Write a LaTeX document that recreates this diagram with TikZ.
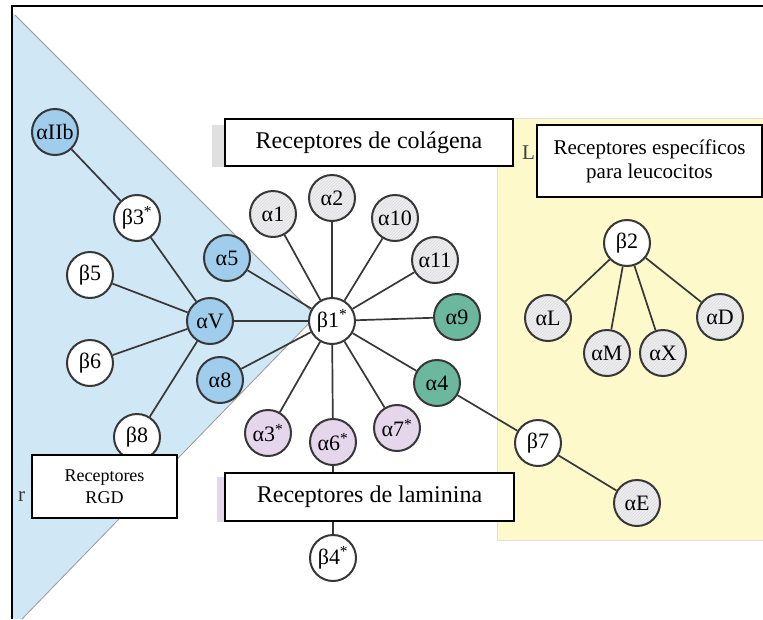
\documentclass[tikz,border=0pt]{standalone}
\usepackage{fontspec}
\setmainfont{Liberation Serif}
\usetikzlibrary{patterns}

\definecolor{zonaazul}{RGB}{208,231,246}
\definecolor{zonaamarilla}{RGB}{253,249,202}
\definecolor{azul}{RGB}{160,205,236}
\definecolor{verde}{RGB}{108,184,158}
\definecolor{rosa}{RGB}{230,214,236}
\definecolor{gris}{RGB}{238,238,241}
\definecolor{trazo}{RGB}{55,55,55}

\begin{document}
\begin{tikzpicture}[x=1pt,y=-1pt,
  subunidad/.style={draw=trazo,circle,line width=2pt,minimum size=46pt,inner sep=0pt,font=\fontsize{22}{24}\selectfont},
  beta/.style={subunidad,fill=white},
  alfaazul/.style={subunidad,fill=azul},
  alfaverde/.style={subunidad,fill=verde},
  alfarosa/.style={subunidad,fill=rosa},
  alfagris/.style={subunidad,preaction={fill=gris},pattern=north east lines,pattern color=black!14},
  rotulo/.style={draw,fill=white,line width=1.5pt,align=center,inner sep=0pt},
  every edge/.style={draw=trazo,line width=1.7pt}]
\useasboundingbox (0,0) rectangle (763,619);

% zonas de fondo
\fill[zonaazul] (13,13) -- (316,316) -- (22,619) -- (13,619) -- cycle;
\draw[black!40,line width=0.8pt] (15,15) -- (316,316) -- (22,619);
\fill[zonaamarilla] (497,118) rectangle (763,540);
\draw[black!12,line width=0.8pt] (763,118) -- (497,118) -- (497,540) -- (763,540);

% restos de los rotulos originales
\fill[black!12] (212,125) rectangle (226,167);
\fill[rosa] (217,477) rectangle (227,522);
\node[font=\fontsize{21}{22}\selectfont,text=black!75,anchor=west,inner sep=0pt] (restoL) at (522,153) {L};
\node[font=\fontsize{21}{22}\selectfont,text=black!80,anchor=west,inner sep=0pt] (restor) at (18,497) {r};

% marco
\draw[line width=2.5pt] (763,6) -- (12,6) -- (12,619);

% subunidades
\node[alfaazul] (aIIb) at (55,132) {αIIb};
\node[beta] (b3) at (137,218) {β3\textsuperscript{*}};
\node[beta] (b5) at (90,275) {β5};
\node[alfaazul] (aV) at (210,321) {αV};
\node[beta] (b6) at (90,363) {β6};
\node[beta] (b8) at (137,437) {β8};
\node[alfaazul] (a5) at (227,258) {α5};
\node[alfaazul] (a8) at (220,380) {α8};
\node[beta] (b1) at (332,321) {β1\textsuperscript{*}};
\node[alfagris] (a1) at (273,214) {α1};
\node[alfagris] (a2) at (332,198) {α2};
\node[alfagris] (a10) at (395,218) {α10};
\node[alfagris] (a11) at (435,260) {α11};
\node[alfaverde] (a9) at (457,317) {α9};
\node[alfaverde] (a4) at (437,383) {α4};
\node[alfarosa] (a7) at (397,428) {α7\textsuperscript{*}};
\node[alfarosa] (a6) at (333,442) {α6\textsuperscript{*}};
\node[alfarosa] (a3) at (268,433) {α3\textsuperscript{*}};
\node[beta] (b4) at (333,558) {β4\textsuperscript{*}};
\node[beta] (b7) at (538,443) {β7};
\node[alfagris] (aE) at (637,503) {αE};
\node[beta] (b2) at (627,243) {β2};
\node[alfagris] (aL) at (548,318) {αL};
\node[alfagris] (aM) at (607,353) {αM};
\node[alfagris] (aX) at (663,353) {αX};
\node[alfagris] (aD) at (720,317) {αD};

% enlaces
\path (aIIb) edge (b3);
\path (b3) edge (aV);
\path (b5) edge (aV);
\path (b6) edge (aV);
\path (b8) edge (aV);
\path (aV) edge (b1);
\path (a5) edge (b1);
\path (a8) edge (b1);
\path (a1) edge (b1);
\path (a2) edge (b1);
\path (a10) edge (b1);
\path (a11) edge (b1);
\path (a9) edge (b1);
\path (a4) edge (b1);
\path (a7) edge (b1);
\path (a6) edge (b1);
\path (a3) edge (b1);
\path (a6) edge (b4);
\path (a4) edge (b7);
\path (b7) edge (aE);
\path (b2) edge (aL);
\path (b2) edge (aM);
\path (b2) edge (aX);
\path (b2) edge (aD);

% rotulos
\node[rotulo,minimum width=288pt,minimum height=47pt,font=\fontsize{24}{28}\selectfont] (colagena) at (369,142.5) {Receptores de colágena};
\node[rotulo,minimum width=225pt,minimum height=72pt,font=\fontsize{21}{24}\selectfont] (leucocitos) at (649.5,161) {Receptores específicos\\para leucocitos};
\node[rotulo,minimum width=145pt,minimum height=63pt,font=\fontsize{18}{22}\selectfont] (rgd) at (104.5,486.5) {Receptores\\RGD};
\node[rotulo,minimum width=289pt,minimum height=48pt,font=\fontsize{24}{28}\selectfont] (laminina) at (369.5,497) {Receptores de laminina};
\end{tikzpicture}
\end{document}
